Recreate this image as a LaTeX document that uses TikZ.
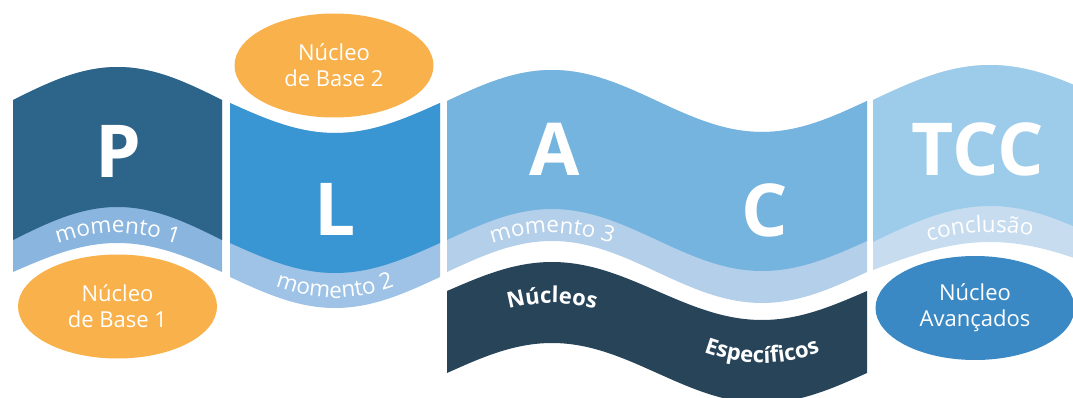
\documentclass[tikz,border=0pt]{standalone}
\usepackage{fontspec}
\setmainfont{Open Sans}
\usetikzlibrary{shapes.geometric,decorations.text}
\definecolor{pdark}{HTML}{2D6489}
\definecolor{pband}{HTML}{8AB5DE}
\definecolor{lblue}{HTML}{3A96D3}
\definecolor{lband}{HTML}{9EC3E6}
\definecolor{acblue}{HTML}{74B4DF}
\definecolor{acband}{HTML}{B4CFE9}
\definecolor{navy}{HTML}{284459}
\definecolor{tccblue}{HTML}{9DCCEA}
\definecolor{tccband}{HTML}{C8DCF0}
\definecolor{baseorange}{HTML}{F8B14B}
\definecolor{avblue}{HTML}{3A89C5}
\newcommand\bandfont{\fontsize{22.5}{22.5}\selectfont}
\newcommand\navyfont{\fontsize{22}{22}\selectfont\bfseries}
\begin{document}
\begin{tikzpicture}[x=1pt, y=-1pt,
    letter/.style={text=white, inner sep=0pt, font=\fontsize{73}{73}\selectfont\bfseries},
    nucleo/.style={ellipse, fill=#1, text=white, align=center, inner sep=0pt,
                   minimum width=199pt, minimum height=104pt, font=\fontsize{22}{26}\selectfont},
    bandtext/.style={decorate, decoration={text along path, text align=center,
                     text color=white, text={|\bandfont|#1}}},
    navytext/.style={decorate, decoration={text along path, text align=center,
                     text color=white, text={|\navyfont|#1}}}]
  \useasboundingbox (0,0) rectangle (1073,398);
  \clip (0,0) rectangle (1073,398);
  \fill[pband] (13,100) sin (117.5,67) cos (222,100) -- (222,272) sin (117.5,243) cos (13,272) -- cycle;
  \fill[pdark] (13,100) sin (117.5,67) cos (222,100) -- (222,240) sin (117.5,207) cos (13,240) -- cycle;
  \fill[lband] (230,103) sin (335,133) cos (440,103) -- (440,277) sin (335,308) cos (230,277) -- cycle;
  \fill[lblue] (230,103) sin (335,133) cos (440,103) -- (440,243) sin (335,273) cos (230,243) -- cycle;
  \fill[acband] (447,101) sin (552,70) cos (657,101) sin (762,132) cos (867,101)
                -- (867,272) sin (762,303) cos (657,272) sin (552,241) cos (447,272) -- cycle;
  \fill[acblue] (447,101) sin (552,70) cos (657,101) sin (762,132) cos (867,101)
                -- (867,241) sin (762,271) cos (657,240) sin (552,209) cos (447,240) -- cycle;
  \fill[navy] (447,291) sin (552,262) cos (657,291) sin (762,320) cos (867,291)
              -- (867,373) sin (762,403) cos (657,373) sin (552,343) cos (447,373) -- cycle;
  \fill[tccband] (873,100) sin (990,65) cos (1107,100) -- (1107,270) sin (990,242) cos (873,270) -- cycle;
  \fill[tccblue] (873,100) sin (990,65) cos (1107,100) -- (1107,242) sin (990,206) cos (873,242) -- cycle;

  \node (pletter) [letter] at (118,151) {P};
  \node (lletter) [letter] at (335,209) {L};
  \node (aletter) [letter] at (555,149) {A};
  \node (cletter) [letter] at (765,210) {C};
  \node (tccletter) [letter] at (978,149) {TCC};

  \path[bandtext={momento 1}] (13,262) sin (117.5,233) cos (222,262);
  \path[bandtext={momento 2}] (230,267) sin (335,298) cos (440,267);
  \path[bandtext={momento 3}] (447,262) sin (552,233) cos (657,262);
  \path[bandtext={conclusão}, decoration={text align={center, right indent=20pt}}]
       (873,260) sin (990,232) cos (1107,260);
  \path[navytext={Núcleos}] (447,332) sin (552,303) cos (657,332);
  \path[navytext={Específicos}] (657,332) sin (762,363) cos (867,332);

  \node (base1) [nucleo=baseorange] at (117.5,306.5) {Núcleo\\de Base 1};
  \node (base2) [nucleo=baseorange] at (334,65.5) {Núcleo\\de Base 2};
  \node (avancados) [nucleo=avblue] at (975,308) {Núcleo\\Avançados};
\end{tikzpicture}
\end{document}
